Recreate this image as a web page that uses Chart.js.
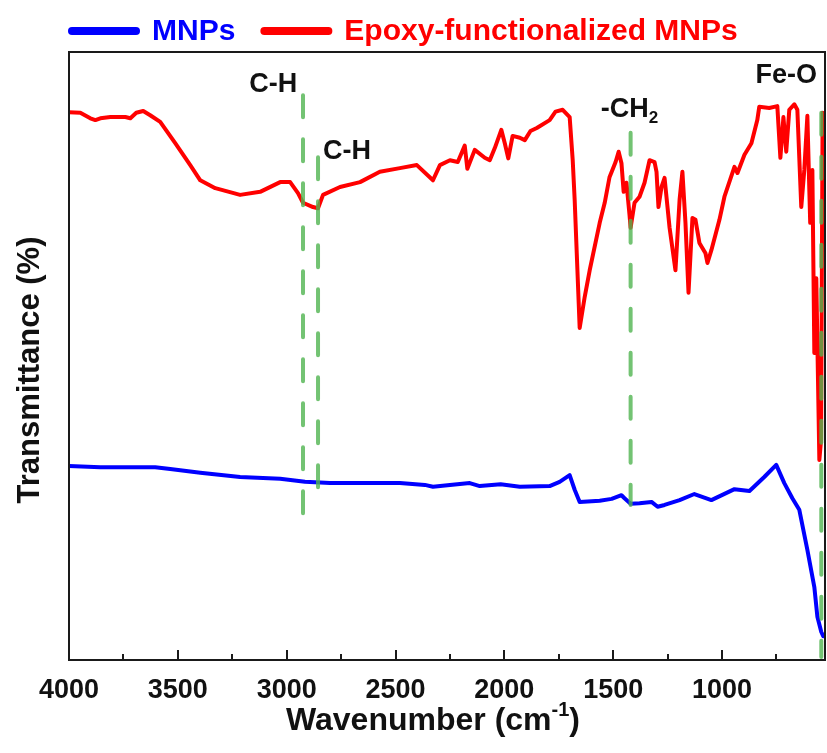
<!DOCTYPE html>
<html>
<head>
<meta charset="utf-8">
<script src="https://cdn.jsdelivr.net/npm/chart.js@4.4.1/dist/chart.umd.min.js"></script>
<style>
  html, body { margin: 0; padding: 0; background: #fff; }
  #ftirChart { display: block; }
</style>
</head>
<body>
<canvas id="ftirChart" width="827" height="753"></canvas>
<script>
// FTIR spectra: bare MNPs vs epoxy-functionalized MNPs
const epoxyWavenumber = [
    4000, 3948, 3902, 3879, 3856, 3810, 3764, 3741, 3718, 3691, 3659, 3627, 3581, 3512, 3443, 3397, 3328, 3214, 3122, 3030,
    2984, 2948, 2925, 2879, 2856, 2833, 2755, 2663, 2572, 2480, 2402, 2328, 2296, 2250, 2214, 2182, 2170, 2136, 2090, 2067,
    2044, 2014, 1998, 1982, 1962, 1929, 1906, 1880, 1851, 1792, 1765, 1732, 1700, 1686, 1677, 1654, 1631, 1608, 1562, 1539,
    1517, 1489, 1475, 1462, 1452, 1439, 1425, 1420, 1402, 1379, 1356, 1333, 1310, 1301, 1292, 1278, 1264, 1241, 1214, 1195,
    1182, 1168, 1154, 1136, 1122, 1104, 1076, 1067, 1049, 1012, 989, 943, 929, 897, 865, 838, 829, 783, 746, 732,
    718, 705, 691, 668, 654, 636, 622, 608, 595, 585, 576, 567, 553, 545, 538
];
const epoxyTransmittance = [
    90.1, 90.0, 89.1, 88.8, 89.1, 89.3, 89.3, 89.3, 89.1, 90.0, 90.3, 89.6, 88.5, 85.0, 81.4, 78.9, 77.6, 76.5, 77.0, 78.6,
    78.6, 76.8, 75.2, 74.5, 74.3, 76.5, 77.8, 78.6, 80.3, 80.9, 81.4, 78.9, 81.4, 82.2, 81.9, 84.6, 80.8, 83.9, 82.6, 82.2,
    84.2, 87.2, 85.0, 82.5, 86.2, 85.9, 85.5, 87.0, 87.5, 88.8, 90.2, 90.5, 89.3, 82.2, 75.7, 54.6, 59.7, 64.1, 71.9, 75.2,
    79.4, 81.9, 83.6, 81.7, 77.0, 78.5, 73.2, 71.1, 75.2, 76.2, 78.5, 82.2, 81.9, 80.3, 74.5, 77.8, 79.3, 71.1, 64.1, 75.7,
    80.3, 71.9, 60.4, 72.7, 72.4, 68.6, 66.9, 65.3, 67.4, 72.4, 76.2, 81.1, 80.1, 83.1, 85.0, 88.8, 91.0, 90.8, 91.1, 82.6,
    89.3, 83.6, 90.5, 91.4, 90.5, 74.5, 80.6, 89.5, 71.9, 80.6, 50.5, 62.8, 32.9, 36.2, 90.0
];

const mnpWavenumber = [
    4000, 3856, 3604, 3535, 3397, 3214, 3030, 2916, 2801, 2663, 2480, 2365, 2328, 2250, 2159, 2113, 2017, 1929, 1792, 1746,
    1700, 1677, 1654, 1562, 1507, 1462, 1448, 1420, 1379, 1324, 1296, 1264, 1195, 1127, 1049, 943, 874, 806, 751, 714,
    677, 645, 608, 576, 562, 544, 535
];
const mnpTransmittance = [
    31.9, 31.7, 31.7, 31.4, 30.8, 30.1, 29.8, 29.3, 29.1, 29.1, 29.1, 28.8, 28.5, 28.8, 29.1, 28.6, 28.9, 28.5, 28.6, 29.3,
    30.4, 28.0, 26.0, 26.2, 26.5, 27.1, 26.6, 25.7, 25.8, 26.0, 25.2, 25.5, 26.3, 27.3, 26.3, 28.1, 27.8, 30.1, 32.1, 29.1,
    26.6, 24.7, 18.1, 12.0, 7.1, 4.6, 3.9
];

// band markers (dashed guides) and their labels
const bandWavenumber = [2925, 2856, 1420, 544];
const bandTop = [92.9, 82.7, 86.7, 90.0];
const bandBottom = [21.9, 26.8, 25.5, 0.5];
const bandLabelText = [['C-H'], ['C-H'], ['-CH', '2'], ['Fe-O']];
const bandLabelWavenumber = [3062, 2723, 1425, 705];
const bandLabelTransmittance = [94.6, 83.6, 90.5, 96.2];

const majorTicks = [4000, 3500, 3000, 2500, 2000, 1500, 1000];
const minorTicks = [3750, 3250, 2750, 2250, 1750, 1250, 750];

const fontFamily = "'Liberation Sans', Arial, sans-serif";
const bandColor = 'rgba(80, 180, 80, 0.8)';

function toPoints(xs, ys) {
    return xs.map((x, i) => ({ x: x, y: ys[i] }));
}

const bandDatasets = bandWavenumber.map((wn, i) => ({
    label: 'band' + i,
    data: [{ x: wn, y: bandTop[i] }, { x: wn, y: bandBottom[i] }],
    borderColor: bandColor,
    borderWidth: 4,
    borderDash: [22, 22],
    pointRadius: 0,
    order: 0,
    isBand: true
}));

// draws text made of parts; odd parts are sub- or superscript
function drawParts(ctx, parts, cx, cy, size, shift) {
    const small = Math.round(size * 0.62);
    let widths = parts.map((p, i) => {
        ctx.font = 'bold ' + (i % 2 ? small : size) + 'px ' + fontFamily;
        return ctx.measureText(p).width;
    });
    let x = cx - widths.reduce((a, b) => a + b, 0) / 2;
    parts.forEach((p, i) => {
        ctx.font = 'bold ' + (i % 2 ? small : size) + 'px ' + fontFamily;
        ctx.fillText(p, x, i % 2 ? cy + shift : cy);
        x += widths[i];
    });
}

const decorPlugin = {
    id: 'decor',
    afterDraw(chart) {
        const ctx = chart.ctx;
        const area = chart.chartArea;
        const xs = chart.scales.x;
        const ys = chart.scales.y;
        ctx.save();

        // frame
        ctx.strokeStyle = '#1a1a1a';
        ctx.lineWidth = 2;
        ctx.strokeRect(area.left, area.top, area.right - area.left, area.bottom - area.top);

        // inward ticks on the x axis
        ctx.beginPath();
        majorTicks.forEach(v => {
            const px = Math.round(xs.getPixelForValue(v));
            ctx.moveTo(px, area.bottom);
            ctx.lineTo(px, area.bottom - 10);
        });
        minorTicks.forEach(v => {
            const px = Math.round(xs.getPixelForValue(v));
            ctx.moveTo(px, area.bottom);
            ctx.lineTo(px, area.bottom - 6);
        });
        ctx.stroke();

        // band labels
        ctx.fillStyle = '#111';
        ctx.textAlign = 'left';
        ctx.textBaseline = 'middle';
        bandLabelText.forEach((parts, i) => {
            drawParts(ctx, parts, xs.getPixelForValue(bandLabelWavenumber[i]),
                ys.getPixelForValue(bandLabelTransmittance[i]), 27, 9);
        });

        // legend
        let lx = 68;
        const ly = 31;
        ctx.lineCap = 'round';
        ctx.lineWidth = 8;
        ctx.font = 'bold 30px ' + fontFamily;
        chart.data.datasets.filter(d => !d.isBand).forEach(d => {
            ctx.strokeStyle = d.borderColor;
            ctx.beginPath();
            ctx.moveTo(lx + 4, ly);
            ctx.lineTo(lx + 68, ly);
            ctx.stroke();
            lx += 84;
            ctx.fillStyle = d.borderColor;
            ctx.fillText(d.label, lx, ly + 1);
            lx += ctx.measureText(d.label).width + 25;
        });

        // axis titles
        ctx.fillStyle = '#111';
        drawParts(ctx, ['Wavenumber (cm', '-1', ')'], 433, 721, 32, -11);
        ctx.translate(30, 370);
        ctx.rotate(-Math.PI / 2);
        ctx.textAlign = 'center';
        ctx.font = 'bold 31px ' + fontFamily;
        ctx.fillText('Transmittance (%)', 0, 0);
        ctx.restore();
    }
};

const ftirChart = new Chart(document.getElementById('ftirChart'), {
    type: 'line',
    data: {
        datasets: [
            {
                label: 'MNPs',
                data: toPoints(mnpWavenumber, mnpTransmittance),
                borderColor: '#0000ff',
                borderWidth: 4,
                pointRadius: 0,
                order: 2
            },
            {
                label: 'Epoxy-functionalized MNPs',
                data: toPoints(epoxyWavenumber, epoxyTransmittance),
                borderColor: '#ff0000',
                borderWidth: 4,
                pointRadius: 0,
                order: 1
            },
            ...bandDatasets
        ]
    },
    options: {
        responsive: false,
        animation: false,
        devicePixelRatio: 1,
        layout: { padding: { top: 52, right: 2, left: 0, bottom: 0 } },
        elements: { line: { tension: 0, borderJoinStyle: 'round', borderCapStyle: 'round' } },
        plugins: {
            legend: { display: false },
            tooltip: { enabled: false }
        },
        scales: {
            x: {
                type: 'linear',
                reverse: true,
                min: 527,
                max: 4000,
                grid: { display: false, drawTicks: false },
                border: { display: false },
                afterBuildTicks: (scale) => { scale.ticks = majorTicks.map(v => ({ value: v })); },
                afterFit: (scale) => { scale.height = 93; },
                ticks: {
                    autoSkip: false,
                    maxRotation: 0,
                    padding: 14,
                    color: '#111',
                    font: { family: fontFamily, size: 27, weight: 'bold' },
                    callback: (v) => String(v)
                }
            },
            y: {
                min: 0,
                max: 100,
                grid: { display: false, drawTicks: false },
                border: { display: false },
                ticks: { display: false },
                afterFit: (scale) => { scale.width = 69; }
            }
        }
    },
    plugins: [decorPlugin]
});
</script>
</body>
</html>
